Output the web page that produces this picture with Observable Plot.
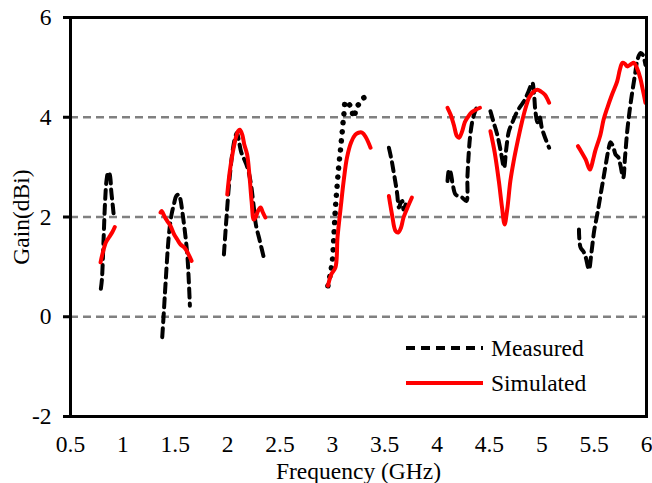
<!DOCTYPE html>
<html>
<head>
<meta charset="utf-8">
<script src="https://cdn.jsdelivr.net/npm/d3@7"></script>
<script src="https://cdn.jsdelivr.net/npm/@observablehq/plot@0.6"></script>
<style>
  body { margin: 0; background: #fff; }
  #wrap { position: relative; width: 652px; height: 483px; font-family: "Liberation Serif", "Times New Roman", Times, "DejaVu Serif", serif; }
  #legend { position: absolute; left: 0; top: 0; pointer-events: none; }
</style>
</head>
<body>
<div id="wrap"></div>
<script>
// Frequency (GHz) ticks and gain (dBi) ticks
const xTicks = [0.5, 1, 1.5, 2, 2.5, 3, 3.5, 4, 4.5, 5, 5.5, 6];
const yTicks = [-2, 0, 2, 4, 6];
const gridLevels = [0, 2, 4];
const seriesNames = ["Measured", "Simulated"];

// Measured gain per band: [frequency GHz, gain dBi]
const measured1 = [[0.79,0.56],[0.80,0.75],[0.815,1.5],[0.83,2.3],[0.845,2.75],[0.86,2.9],[0.875,2.85],[0.89,2.5],[0.905,2.2],[0.915,1.99]];
const measured2 = [[1.376,-0.41],[1.39,0.05],[1.407,0.65],[1.44,1.65],[1.465,2.05],[1.487,2.25],[1.51,2.42],[1.535,2.45],[1.55,2.35],[1.567,2.12],[1.59,1.75],[1.615,1.25],[1.63,0.7],[1.64,0.22]];
const measured3 = [[1.965,1.25],[1.99,2.0],[2.02,2.8],[2.05,3.35],[2.075,3.62],[2.09,3.69],[2.11,3.5],[2.13,3.3],[2.15,3.2],[2.19,2.99],[2.22,2.7],[2.25,2.2],[2.27,1.85],[2.31,1.5],[2.35,1.15]];
const measured4 = [[2.958,0.62],[2.98,0.85],[3.0,1.12],[3.015,1.6],[3.03,2.19],[3.045,2.6],[3.06,2.99],[3.078,3.35],[3.095,3.72],[3.11,4.05],[3.127,4.32],[3.15,4.28],[3.174,4.22],[3.19,4.1],[3.206,3.99],[3.22,4.1],[3.238,4.22],[3.27,4.3],[3.30,4.39],[3.34,4.4]];
const measured5 = [[3.54,3.39],[3.565,3.15],[3.59,2.85],[3.61,2.6],[3.62,2.45],[3.636,2.19],[3.652,2.28],[3.668,2.32],[3.68,2.15],[3.70,2.25]];
const measured6 = [[4.10,2.72],[4.115,2.95],[4.13,2.89],[4.15,2.65],[4.177,2.45],[4.21,2.42],[4.24,2.39],[4.28,2.32],[4.29,2.8],[4.30,3.19],[4.315,3.6],[4.337,3.92],[4.36,4.1],[4.385,4.22]];
const measured7 = [[4.51,4.12],[4.54,3.9],[4.575,3.65],[4.61,3.3],[4.64,2.99],[4.66,3.35],[4.686,3.72],[4.72,3.9],[4.75,4.05],[4.79,4.2],[4.83,4.32],[4.87,4.5],[4.91,4.69],[4.925,4.5],[4.94,4.1],[4.96,3.9],[4.98,4.0],[5.0,3.79],[5.03,3.6],[5.07,3.39]];
const measured8 = [[5.355,1.75],[5.37,1.39],[5.40,1.3],[5.42,1.19],[5.45,0.95],[5.475,1.3],[5.50,1.72],[5.525,2.0],[5.546,2.25],[5.57,2.55],[5.59,2.79],[5.615,3.1],[5.64,3.39],[5.656,3.5],[5.673,3.45],[5.69,3.35],[5.705,3.25],[5.73,3.2],[5.75,3.05],[5.778,2.79],[5.795,3.2],[5.816,3.72],[5.84,4.15],[5.865,4.52],[5.89,4.85],[5.91,5.12],[5.93,5.25],[5.944,5.29],[5.965,5.25],[5.99,5.05]];

// Simulated gain per band: [frequency GHz, gain dBi]
const simulated1 = [[0.787,1.09],[0.81,1.3],[0.84,1.5],[0.87,1.6],[0.90,1.7],[0.923,1.8]];
const simulated2 = [[1.36,2.09],[1.37,2.12],[1.40,2.0],[1.43,1.9],[1.455,1.82],[1.49,1.65],[1.52,1.55],[1.55,1.45],[1.59,1.38],[1.62,1.28],[1.656,1.12]];
const simulated3 = [[1.997,2.45],[2.02,2.9],[2.05,3.3],[2.08,3.6],[2.10,3.72],[2.117,3.75],[2.14,3.65],[2.16,3.45],[2.187,3.25],[2.21,2.8],[2.23,2.3],[2.25,1.95],[2.27,2.0],[2.29,2.12],[2.315,2.19],[2.335,2.1],[2.36,1.99]];
const simulated4 = [[2.958,0.62],[2.99,0.85],[3.03,0.99],[3.05,1.6],[3.08,2.19],[3.11,2.75],[3.14,3.19],[3.18,3.5],[3.22,3.65],[3.25,3.69],[3.286,3.69],[3.32,3.6],[3.365,3.39]];
const simulated5 = [[3.54,2.42],[3.57,2.05],[3.604,1.72],[3.63,1.69],[3.655,1.78],[3.68,1.99],[3.72,2.2],[3.76,2.39]];
const simulated6 = [[4.10,4.19],[4.13,4.05],[4.16,3.85],[4.19,3.62],[4.21,3.59],[4.24,3.72],[4.265,3.9],[4.29,3.99],[4.33,4.1],[4.37,4.15],[4.41,4.19]];
const simulated7 = [[4.51,3.72],[4.55,3.3],[4.59,2.72],[4.62,2.2],[4.645,1.85],[4.67,2.15],[4.70,2.72],[4.73,3.1],[4.77,3.52],[4.81,3.9],[4.846,4.19],[4.88,4.4],[4.925,4.52],[4.96,4.55],[4.99,4.52],[5.03,4.45],[5.07,4.29]];
const simulated8 = [[5.345,3.42],[5.38,3.3],[5.42,3.15],[5.46,2.95],[5.49,3.15],[5.51,3.32],[5.56,3.65],[5.59,3.95],[5.626,4.19],[5.67,4.45],[5.72,4.72],[5.745,4.95],[5.77,5.09],[5.795,5.07],[5.816,5.02],[5.85,5.06],[5.88,5.09],[5.91,4.98],[5.94,4.79],[5.965,4.55],[5.99,4.29]];

function rows(bands) {
  return bands.flatMap((b, i) => b.map(([f, g]) => ({f, g, band: i})));
}
const measuredDashed = rows([measured1, measured2, measured3, measured5, measured6, measured7, measured8]);
const measuredDotted = rows([measured4]);
const simulatedRows = rows([simulated1, simulated2, simulated3, simulated4, simulated5, simulated6, simulated7, simulated8]);

const FONT = '"Liberation Serif", "Times New Roman", Times, "DejaVu Serif", serif';
const FS = 23.5;

const chart = Plot.plot({
  width: 652,
  height: 483,
  marginLeft: 70,
  marginRight: 6,
  marginTop: 17,
  marginBottom: 67,
  style: {fontFamily: FONT, fontSize: FS + "px", color: "#000", background: "#fff"},
  x: {domain: [0.5, 6]},
  y: {domain: [-2, 6]},
  marks: [
    Plot.ruleY(gridLevels, {stroke: "#808080", strokeWidth: 2.5, strokeDasharray: "8,5"}),
    Plot.line(measuredDashed, {x: "f", y: "g", z: "band", stroke: "#000", strokeWidth: 4, strokeDasharray: "9,6", curve: "catmull-rom"}),
    Plot.line(measuredDotted, {x: "f", y: "g", z: "band", stroke: "#000", strokeWidth: 5.5, strokeDasharray: "0.1,9", strokeLinecap: "round", curve: "catmull-rom"}),
    Plot.line(simulatedRows, {x: "f", y: "g", z: "band", stroke: "#ff0000", strokeWidth: 4, curve: "catmull-rom"}),
    Plot.frame({stroke: "#000", strokeWidth: 3}),
    Plot.axisY({ticks: yTicks, tickSize: 7, tickPadding: 12, strokeWidth: 3, fontSize: FS, tickFormat: d => String(d),
      label: "Gain(dBi)", labelAnchor: "center", labelOffset: 58, labelArrow: "none"}),
    Plot.axisX({ticks: xTicks, tickSize: 0, tickPadding: 19, fontSize: FS, tickFormat: d => String(d),
      label: "Frequency (GHz)", labelAnchor: "center", labelOffset: 62, labelArrow: "none"})
  ]
});

const wrap = document.getElementById("wrap");
wrap.appendChild(chart);

// Legend overlay (inside plot area, lower right)
const ns = "http://www.w3.org/2000/svg";
const leg = document.createElementNS(ns, "svg");
leg.setAttribute("id", "legend");
leg.setAttribute("width", 652);
leg.setAttribute("height", 483);
const entries = [
  {name: seriesNames[0], y: 348, stroke: "#000", dash: "9,6"},
  {name: seriesNames[1], y: 383, stroke: "#ff0000", dash: null}
];
for (const e of entries) {
  const l = document.createElementNS(ns, "line");
  l.setAttribute("x1", 406); l.setAttribute("x2", 483);
  l.setAttribute("y1", e.y); l.setAttribute("y2", e.y);
  l.setAttribute("stroke", e.stroke); l.setAttribute("stroke-width", 4);
  if (e.dash) l.setAttribute("stroke-dasharray", e.dash);
  leg.appendChild(l);
  const t = document.createElementNS(ns, "text");
  t.setAttribute("x", 491); t.setAttribute("y", e.y);
  t.setAttribute("dy", "0.35em");
  t.setAttribute("font-family", FONT); t.setAttribute("font-size", FS);
  t.textContent = e.name;
  leg.appendChild(t);
}
wrap.appendChild(leg);
</script>
</body>
</html>
